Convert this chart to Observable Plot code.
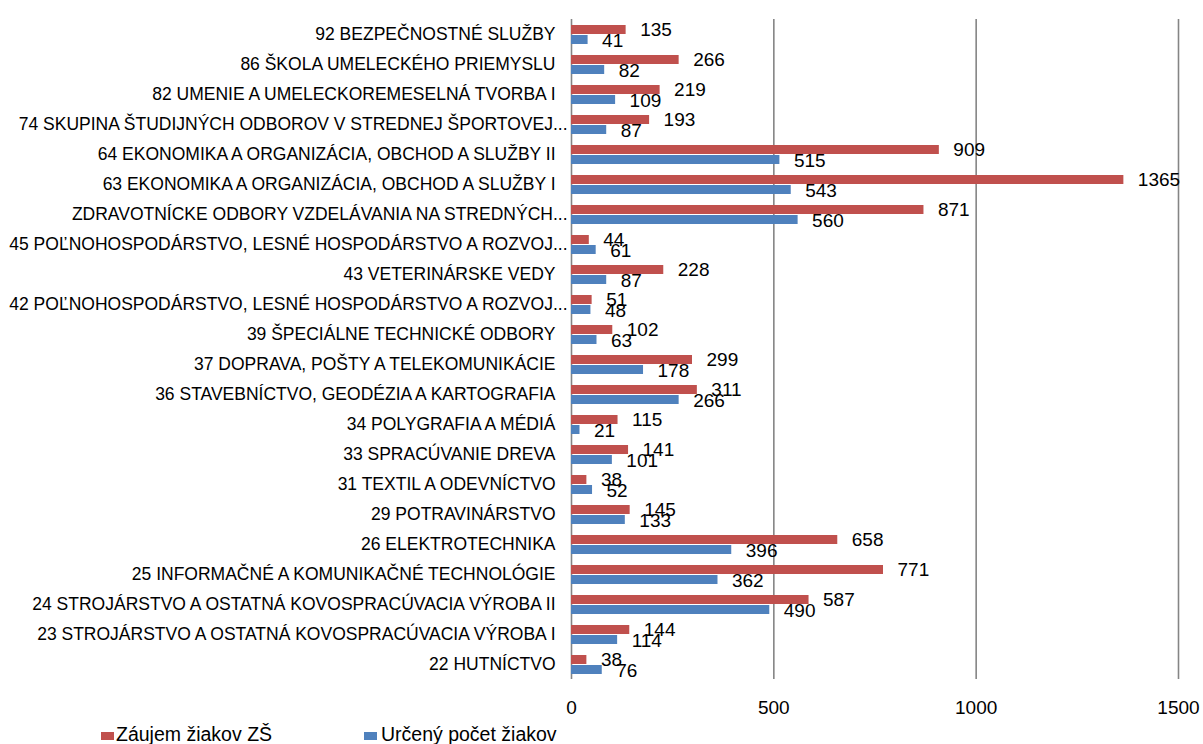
<!DOCTYPE html>
<html>
<head>
<meta charset="utf-8">
<script src="https://cdn.jsdelivr.net/npm/d3@7"></script>
<script src="https://cdn.jsdelivr.net/npm/@observablehq/plot@0.6"></script>
<style>
  body { margin: 0; background: #fff; font-family: "Liberation Sans", Arial, sans-serif; }
  #wrap { position: relative; width: 1203px; height: 744px; overflow: hidden; }
  #legend { position: absolute; top: 723px; left: 0; width: 1203px; height: 22px; font-size: 19.5px; color: #000; }
  .sw { position: absolute; top: 9px; width: 13px; height: 8px; }
  .lt { position: absolute; top: 0px; white-space: nowrap; }
</style>
</head>
<body>
<div id="wrap">
  <div id="chart"></div>
  <div id="legend">
    <div class="sw" style="left:101px;background:#C0504D"></div>
    <div class="lt" style="left:116px">Záujem žiakov ZŠ</div>
    <div class="sw" style="left:364px;background:#4F81BD"></div>
    <div class="lt" style="left:381px">Určený počet žiakov</div>
  </div>
</div>
<script>
const categories = [
  "92 BEZPEČNOSTNÉ SLUŽBY",
  "86 ŠKOLA UMELECKÉHO PRIEMYSLU",
  "82 UMENIE A UMELECKOREMESELNÁ TVORBA I",
  "74 SKUPINA ŠTUDIJNÝCH ODBOROV V STREDNEJ ŠPORTOVEJ...",
  "64 EKONOMIKA A ORGANIZÁCIA, OBCHOD A SLUŽBY II",
  "63 EKONOMIKA A ORGANIZÁCIA, OBCHOD A SLUŽBY I",
  "ZDRAVOTNÍCKE ODBORY VZDELÁVANIA NA STREDNÝCH...",
  "45 POĽNOHOSPODÁRSTVO, LESNÉ HOSPODÁRSTVO A ROZVOJ...",
  "43 VETERINÁRSKE VEDY",
  "42 POĽNOHOSPODÁRSTVO, LESNÉ HOSPODÁRSTVO A ROZVOJ... ",
  "39 ŠPECIÁLNE TECHNICKÉ ODBORY",
  "37 DOPRAVA, POŠTY A TELEKOMUNIKÁCIE",
  "36 STAVEBNÍCTVO, GEODÉZIA A KARTOGRAFIA",
  "34 POLYGRAFIA A MÉDIÁ",
  "33 SPRACÚVANIE DREVA",
  "31 TEXTIL A ODEVNÍCTVO",
  "29 POTRAVINÁRSTVO",
  "26 ELEKTROTECHNIKA",
  "25 INFORMAČNÉ A KOMUNIKAČNÉ TECHNOLÓGIE",
  "24 STROJÁRSTVO A OSTATNÁ KOVOSPRACÚVACIA VÝROBA II",
  "23 STROJÁRSTVO A OSTATNÁ KOVOSPRACÚVACIA VÝROBA I",
  "22 HUTNÍCTVO"
];
const zaujem = [135, 266, 219, 193, 909, 1365, 871, 44, 228, 51, 102, 299, 311, 115, 141, 38, 145, 658, 771, 587, 144, 38];
const urceny = [41, 82, 109, 87, 515, 543, 560, 61, 87, 48, 63, 178, 266, 21, 101, 52, 133, 396, 362, 490, 114, 76];
const seriesNames = ["Záujem žiakov ZŠ", "Určený počet žiakov"];
const seriesColors = ["#C0504D", "#4F81BD"];
const xTicks = [0, 500, 1000, 1500];

const data = categories.flatMap((c, i) => [
  {cat: c, series: seriesNames[0], value: zaujem[i]},
  {cat: c, series: seriesNames[1], value: urceny[i]}
]);

const truncated = categories.filter(c => c.trim().endsWith("..."));
const regular = categories.filter(c => !c.trim().endsWith("..."));

const chart = Plot.plot({
  width: 1203,
  height: 722,
  marginLeft: 571,
  marginRight: 25,
  marginTop: 13,
  marginBottom: 38,
  style: {fontFamily: "Liberation Sans, Arial, sans-serif", background: "#fff", color: "#000"},
  x: {domain: [0, 1500]},
  fy: {domain: categories, padding: 0, label: null},
  y: {domain: seriesNames, axis: null, paddingInner: 0.15, paddingOuter: 0.45},
  color: {domain: seriesNames, range: seriesColors},
  marks: [
    Plot.ruleX(xTicks, {stroke: "#858585", strokeWidth: 1.6}),
    Plot.barX(data, {fy: "cat", y: "series", x: "value", fill: "series"}),
    Plot.text(data.filter(d => d.series === seriesNames[0]), {
      fy: "cat", y: "series", x: "value", text: d => String(d.value),
      dx: 14, dy: 0, textAnchor: "start", fontSize: 19, fill: "#000"
    }),
    Plot.text(data.filter(d => d.series === seriesNames[1]), {
      fy: "cat", y: "series", x: "value", text: d => String(d.value),
      dx: 14, dy: 1, textAnchor: "start", fontSize: 19, fill: "#000"
    }),
    Plot.axisFy({ticks: regular, anchor: "left", tickSize: 0, tickPadding: 16, fontSize: 17.5, label: null}),
    Plot.axisFy({ticks: truncated, anchor: "left", tickSize: 0, tickPadding: 4, fontSize: 17.5, label: null, tickFormat: d => d.trim()}),
    Plot.axisX({ticks: xTicks, tickSize: 0, tickPadding: 21, fontSize: 19, label: null, tickFormat: d => String(d)})
  ]
});
document.getElementById("chart").appendChild(chart);
</script>
</body>
</html>
